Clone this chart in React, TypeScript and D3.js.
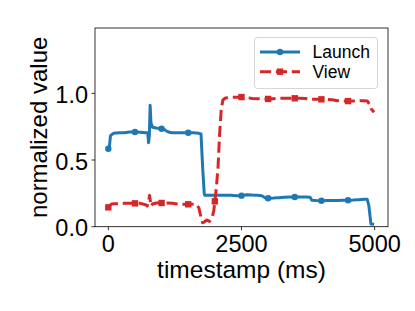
import * as d3 from "d3";

// timestamps (ms) and normalized values
const launchT = [0, 20, 40, 60, 100, 200, 300, 400, 500, 600, 700, 740, 755, 770, 785, 800, 830, 900, 1000, 1050, 1100, 1150, 1200, 1300, 1400, 1500, 1600, 1700, 1740, 1770, 1800, 1810, 1900, 2000, 2100, 2200, 2300, 2400, 2500, 2600, 2700, 2800, 2880, 2950, 3000, 3100, 3200, 3300, 3400, 3500, 3600, 3700, 3790, 3820, 3900, 4000, 4100, 4200, 4300, 4400, 4500, 4600, 4700, 4800, 4860, 4890, 4930, 4990];
const launchV = [0.585, 0.6, 0.68, 0.69, 0.7, 0.705, 0.705, 0.71, 0.71, 0.708, 0.705, 0.705, 0.63, 0.68, 0.91, 0.78, 0.745, 0.74, 0.735, 0.73, 0.715, 0.708, 0.705, 0.705, 0.705, 0.705, 0.705, 0.7, 0.695, 0.45, 0.25, 0.235, 0.235, 0.235, 0.235, 0.235, 0.235, 0.233, 0.233, 0.24, 0.237, 0.235, 0.232, 0.215, 0.213, 0.215, 0.218, 0.22, 0.222, 0.223, 0.222, 0.222, 0.22, 0.198, 0.196, 0.195, 0.196, 0.196, 0.197, 0.198, 0.198, 0.2, 0.203, 0.205, 0.205, 0.16, 0.02, 0.018];
const launchMarks = [0, 500, 1000, 1500, 2500, 3000, 3500, 4000, 4500];

const viewT = [0, 30, 60, 100, 200, 300, 400, 500, 600, 700, 730, 760, 775, 790, 800, 830, 900, 1000, 1100, 1200, 1300, 1400, 1500, 1600, 1660, 1700, 1740, 1770, 1800, 1850, 1900, 1950, 1980, 2000, 2030, 2060, 2090, 2120, 2150, 2200, 2300, 2400, 2500, 2600, 2700, 2800, 2900, 3000, 3100, 3200, 3300, 3400, 3500, 3600, 3700, 3800, 3900, 4000, 4100, 4200, 4300, 4400, 4500, 4600, 4700, 4800, 4860, 4900, 4940, 4990];
const viewV = [0.145, 0.16, 0.17, 0.172, 0.173, 0.175, 0.175, 0.175, 0.175, 0.165, 0.155, 0.2, 0.235, 0.19, 0.155, 0.17, 0.178, 0.178, 0.178, 0.175, 0.17, 0.168, 0.168, 0.168, 0.165, 0.14, 0.07, 0.03, 0.035, 0.05, 0.04, 0.07, 0.12, 0.19, 0.3, 0.45, 0.7, 0.88, 0.95, 0.965, 0.97, 0.97, 0.972, 0.968, 0.962, 0.96, 0.958, 0.958, 0.96, 0.962, 0.963, 0.963, 0.963, 0.963, 0.962, 0.955, 0.955, 0.955, 0.955, 0.952, 0.945, 0.942, 0.942, 0.943, 0.944, 0.945, 0.943, 0.92, 0.88, 0.858];
const viewMarks = [0, 500, 1000, 1500, 2000, 2500, 3000, 3500, 4000, 4500];

const xTicks = [0, 2500, 5000];
const yTicks = [0, 0.5, 1.0];
const seriesNames = ["Launch", "View"];

const W = 415;
const H = 311;
const left = 95, right = 388, top = 28, bottom = 226.7;
const BLUE = "#1f77b4";
const RED = "#d62728";
const FONT = "'Liberation Sans', Arial, Helvetica, sans-serif";

const App = () => {
  const x = d3.scaleLinear().domain([-250, 5250]).range([left, right]);
  const y = d3.scaleLinear().domain([0, 1.49]).range([bottom, top]);

  const line = d3
    .line<[number, number]>()
    .x((d) => x(d[0]))
    .y((d) => y(d[1]));

  const launchPts = launchT.map((t, i) => [t, launchV[i]] as [number, number]);
  const viewPts = viewT.map((t, i) => [t, viewV[i]] as [number, number]);
  const launchM = launchPts.filter((d) => launchMarks.includes(d[0]));
  const viewM = viewPts.filter((d) => viewMarks.includes(d[0]));

  return (
    <svg
      width={W}
      height={H}
      style={{ position: "absolute", left: 0, top: 0, background: "#fff" }}
      fontFamily={FONT}
    >
      <defs>
        <clipPath id="plot">
          <rect x={left} y={top} width={right - left} height={bottom - top} />
        </clipPath>
      </defs>

      <g clipPath="url(#plot)">
        <path d={line(launchPts) || ""} fill="none" stroke={BLUE} strokeWidth={3} strokeLinejoin="round" />
        {launchM.map((d, i) => (
          <circle key={i} cx={x(d[0])} cy={y(d[1])} r={3.2} fill={BLUE} />
        ))}
        <path
          d={line(viewPts) || ""}
          fill="none"
          stroke={RED}
          strokeWidth={3}
          strokeDasharray="11.1 4.8"
          strokeLinejoin="round"
        />
        {viewM.map((d, i) => (
          <rect key={i} x={x(d[0]) - 3.2} y={y(d[1]) - 3.2} width={6.4} height={6.4} fill={RED} />
        ))}
      </g>

      {/* spines */}
      <rect x={left} y={top} width={right - left} height={bottom - top} fill="none" stroke="#000" strokeWidth={0.8} />

      {/* x axis */}
      {xTicks.map((t) => (
        <g key={t}>
          <line x1={x(t)} x2={x(t)} y1={bottom} y2={bottom + 3.5} stroke="#000" strokeWidth={0.8} />
          <text x={x(t)} y={bottom + 25} fontSize={23.5} textAnchor="middle" fill="#000">
            {t}
          </text>
        </g>
      ))}
      <text x={(left + right) / 2} y={278} fontSize={24.5} textAnchor="middle" fill="#000">
        timestamp (ms)
      </text>

      {/* y axis */}
      {yTicks.map((t) => (
        <g key={t}>
          <line x1={left - 3.5} x2={left} y1={y(t)} y2={y(t)} stroke="#000" strokeWidth={0.8} />
          <text x={88} y={y(t) + 9.5} fontSize={23.5} textAnchor="end" fill="#000">
            {t.toFixed(1)}
          </text>
        </g>
      ))}
      <text
        transform={`translate(47, ${(top + bottom) / 2}) rotate(-90)`}
        fontSize={24}
        textAnchor="middle"
        fill="#000"
      >
        normalized value
      </text>

      {/* legend */}
      <rect x={254.5} y={37.5} width={123} height={51} rx={3} fill="#fff" fillOpacity={0.8} stroke="#ccc" strokeWidth={0.8} />
      <line x1={260} x2={300} y1={52} y2={52} stroke={BLUE} strokeWidth={3} />
      <circle cx={280} cy={52} r={3.2} fill={BLUE} />
      <line x1={260} x2={300} y1={71.7} y2={71.7} stroke={RED} strokeWidth={3} strokeDasharray="11.1 4.8" />
      <rect x={276.8} y={68.5} width={6.4} height={6.4} fill={RED} />
      <text x={312.5} y={58.3} fontSize={17.5} fill="#000">
        {seriesNames[0]}
      </text>
      <text x={312.5} y={78.2} fontSize={17.5} fill="#000">
        {seriesNames[1]}
      </text>
    </svg>
  );
};

export default App;
